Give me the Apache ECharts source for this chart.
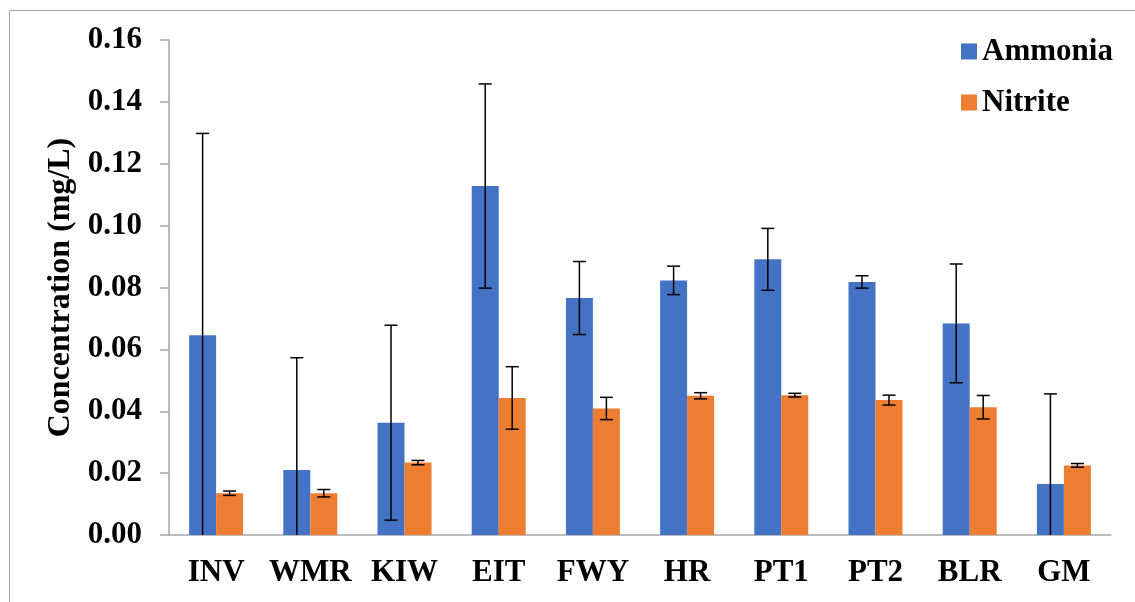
<!DOCTYPE html>
<html>
<head>
<meta charset="utf-8">
<script src="https://cdn.jsdelivr.net/npm/echarts@6/dist/echarts.min.js"></script>
<style>
html,body{margin:0;padding:0;background:#fff;}
#chart{width:1135px;height:602px;}
</style>
</head>
<body>
<div id="chart"></div>
<script>
var categories = ['INV', 'WMR', 'KIW', 'EIT', 'FWY', 'HR', 'PT1', 'PT2', 'BLR', 'GM'];
var ammonia   = [0.0646, 0.0210, 0.0363, 0.1128, 0.0766, 0.0823, 0.0891, 0.0818, 0.0684, 0.0165];
var ammoniaSD = [0.0652, 0.0363, 0.0315, 0.0330, 0.0118, 0.0046, 0.0100, 0.0020, 0.0192, 0.0291];
var nitrite   = [0.0135, 0.0135, 0.0234, 0.0443, 0.0409, 0.0450, 0.0452, 0.0436, 0.0413, 0.0225];
var nitriteSD = [0.0007, 0.0012, 0.0007, 0.0101, 0.0036, 0.0010, 0.0006, 0.0016, 0.0038, 0.0006];
var seriesNames = ['Ammonia', 'Nitrite'];
var yTicks = [0, 0.16, 0.02];

var FONT = '"Liberation Serif", "Times New Roman", serif';
var GAP = 0.427;

function errData(vals, sds) {
  return vals.map(function (v, i) { return [i, v, sds[i]]; });
}

function errRender(sideSign) {
  return function (params, api) {
    var idx = api.value(0), v = api.value(1), sd = api.value(2);
    var band = api.size([1, 0])[0];
    var bw = band * (1 - GAP) / 2;
    var hi = v + sd, lo = Math.max(0, v - sd);
    var pHi = api.coord([idx, hi]);
    var pLo = api.coord([idx, lo]);
    var x = pHi[0] + sideSign * bw / 2;
    var cap = 6.5;
    var style = { stroke: '#000', lineWidth: 1.5 };
    var children = [
      { type: 'line', shape: { x1: x, y1: pHi[1], x2: x, y2: pLo[1] }, style: style },
      { type: 'line', shape: { x1: x - cap, y1: pHi[1], x2: x + cap, y2: pHi[1] }, style: style }
    ];
    if (v - sd > 0) {
      children.push({ type: 'line', shape: { x1: x - cap, y1: pLo[1], x2: x + cap, y2: pLo[1] }, style: style });
    }
    return { type: 'group', children: children };
  };
}

var chart = echarts.init(document.getElementById('chart'));
chart.setOption({
  animation: false,
  backgroundColor: '#fff',
  textStyle: { fontFamily: FONT },
  graphic: [{
    type: 'rect', left: 7, top: 8, silent: true,
    shape: { width: 1200, height: 700 },
    style: { fill: 'none', stroke: '#a6a6a6', lineWidth: 1 }
  }],
  legend: {
    orient: 'vertical', left: 956, top: 31,
    itemWidth: 16, itemHeight: 16, itemGap: 20,
    icon: 'rect',
    data: seriesNames,
    textStyle: { fontFamily: FONT, fontSize: 31, fontWeight: 'bold', color: '#000', lineHeight: 31 }
  },
  grid: { left: 169, right: 24, top: 40, bottom: 67 },
  xAxis: {
    type: 'category', data: categories,
    axisLine: { lineStyle: { color: '#a6a6a6', width: 1.5 } },
    axisTick: { show: false },
    axisLabel: { interval: 0, color: '#000', fontFamily: FONT, fontSize: 31, fontWeight: 'bold', margin: 22 }
  },
  yAxis: {
    type: 'value', min: yTicks[0], max: yTicks[1], interval: yTicks[2],
    name: 'Concentration (mg/L)', nameLocation: 'middle', nameGap: 92, nameRotate: 90,
    nameTextStyle: { color: '#000', fontFamily: FONT, fontSize: 32, fontWeight: 'bold' },
    axisLine: { show: true, lineStyle: { color: '#a6a6a6', width: 1.5 } },
    axisTick: { show: true, inside: false, length: 9, lineStyle: { color: '#a6a6a6', width: 1.5 } },
    splitLine: { show: false },
    axisLabel: {
      color: '#000', fontFamily: FONT, fontSize: 31, fontWeight: 'bold', margin: 27,
      formatter: function (v) { return v.toFixed(2); }
    }
  },
  series: [
    { name: seriesNames[0], type: 'bar', data: ammonia, barGap: '0%', barCategoryGap: (GAP * 100) + '%',
      itemStyle: { color: '#4472C4' } },
    { name: seriesNames[1], type: 'bar', data: nitrite, barGap: '0%', barCategoryGap: (GAP * 100) + '%',
      itemStyle: { color: '#ED7D31' } },
    { type: 'custom', renderItem: errRender(-1), data: errData(ammonia, ammoniaSD), z: 10,
      encode: { x: 0, y: 1 }, silent: true },
    { type: 'custom', renderItem: errRender(1), data: errData(nitrite, nitriteSD), z: 10,
      encode: { x: 0, y: 1 }, silent: true }
  ]
});
</script>
</body>
</html>
